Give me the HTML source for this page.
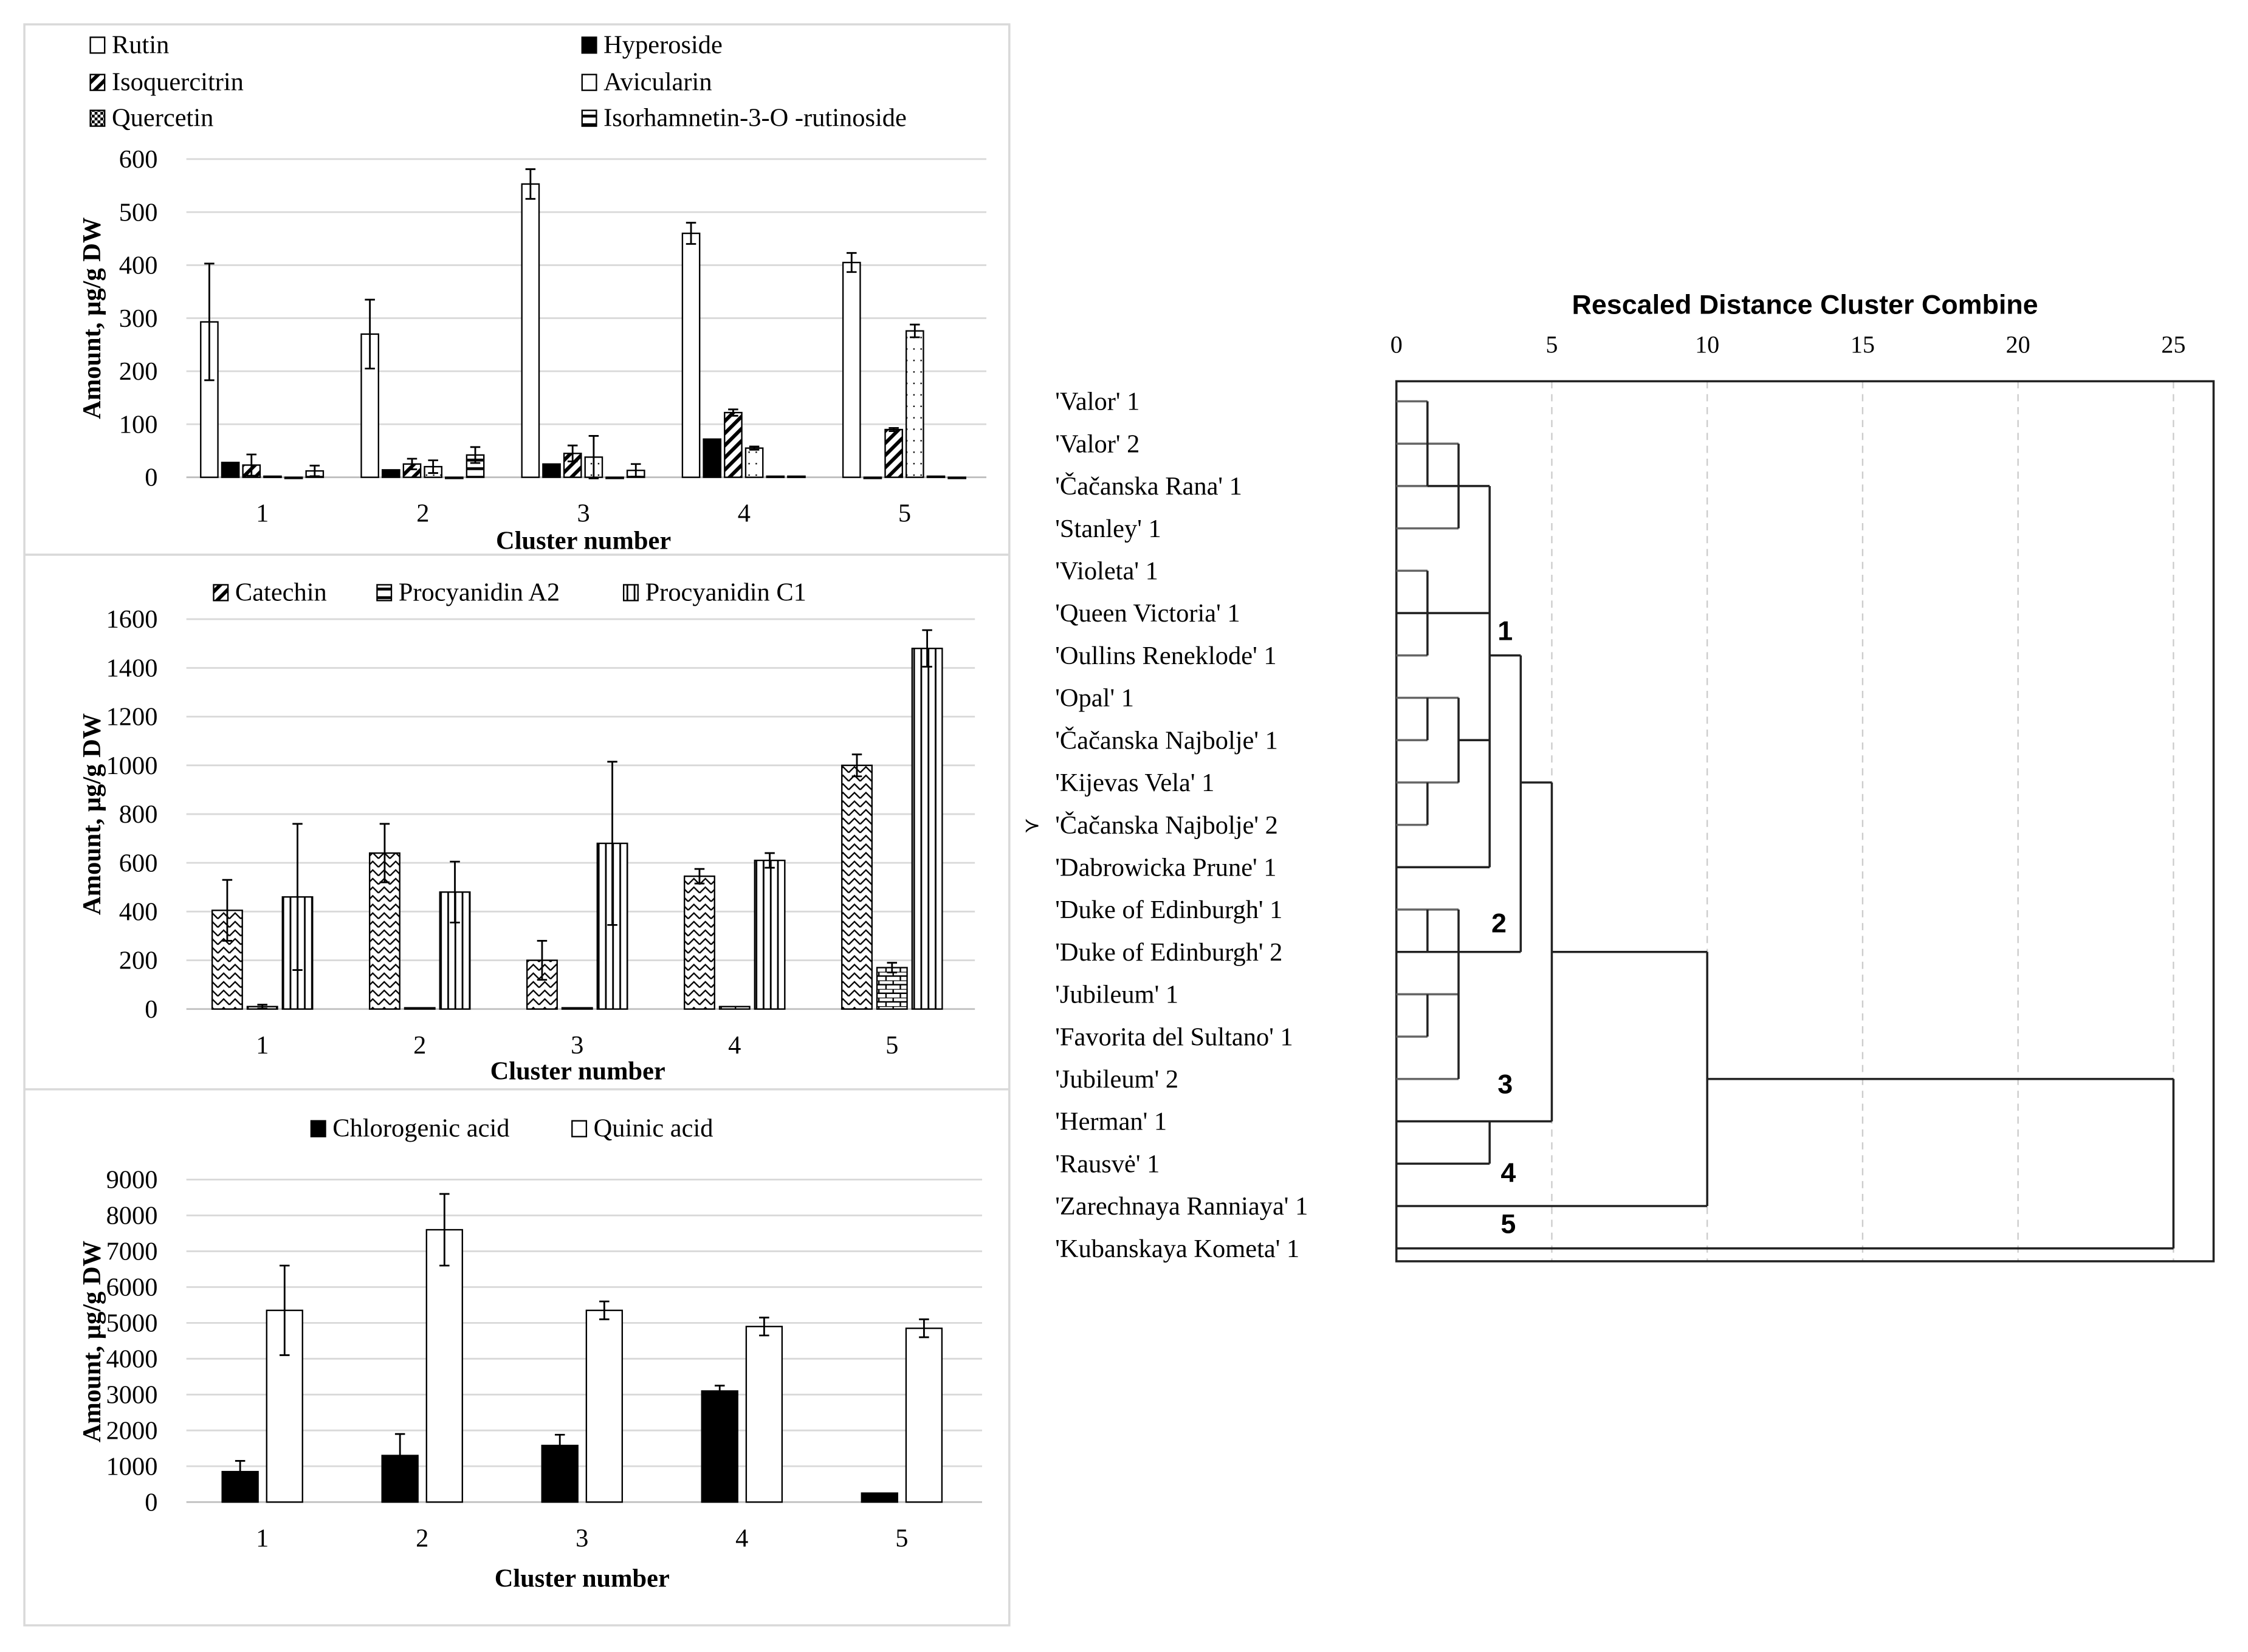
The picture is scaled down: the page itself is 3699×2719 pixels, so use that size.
<!DOCTYPE html>
<html><head><meta charset="utf-8"><style>
html,body{margin:0;padding:0;background:#fff}
svg{display:block}
text{font-family:"Liberation Serif",serif;fill:#000}
.sans{font-family:"Liberation Sans",sans-serif}
</style></head><body>
<svg id="fig" xmlns="http://www.w3.org/2000/svg" width="3699" height="2719" viewBox="0 0 1568 1152.6" preserveAspectRatio="none">
<defs>
<pattern id="pDiag" width="6" height="6" patternUnits="userSpaceOnUse" patternTransform="rotate(45)"><rect width="6" height="6" fill="#fff"/><rect width="2.5" height="6" fill="#000"/></pattern>
<pattern id="pDots" width="5" height="8" patternUnits="userSpaceOnUse"><rect width="5" height="8" fill="#fff"/><rect x="2" y="3" width="1" height="1" fill="#000"/></pattern>
<pattern id="pHor" width="6" height="6" patternUnits="userSpaceOnUse"><rect width="6" height="6" fill="#fff"/><rect y="2" width="6" height="2" fill="#000"/></pattern>
<pattern id="pCheck" width="4" height="4" patternUnits="userSpaceOnUse"><rect width="4" height="4" fill="#fff"/><rect width="2" height="2" fill="#000"/><rect x="2" y="2" width="2" height="2" fill="#000"/></pattern>
<pattern id="pZig" width="8" height="6" patternUnits="userSpaceOnUse"><rect width="8" height="6" fill="#fff"/><path d="M0,5 L4,1 L8,5" fill="none" stroke="#000" stroke-width="1"/></pattern>
<pattern id="pBrick" width="10" height="6" patternUnits="userSpaceOnUse"><rect width="10" height="6" fill="#fff"/><path d="M0,0H10M0,3H10M3,0V3M8,3V6" stroke="#000" stroke-width="1"/></pattern>
<pattern id="pVert" width="5" height="5" patternUnits="userSpaceOnUse"><rect width="5" height="5" fill="#fff"/><rect x="2" width="1.2" height="5" fill="#000"/></pattern>
</defs>
<rect x="17" y="17" width="687" height="1117" fill="none" stroke="#d9d9d9" stroke-width="1.5"/>
<line x1="17" y1="387" x2="704" y2="387" stroke="#d9d9d9" stroke-width="1.5"/>
<line x1="17" y1="760" x2="704" y2="760" stroke="#d9d9d9" stroke-width="1.5"/>
<g id="c1"></g>
<g id="c2"></g>
<g id="c3"></g>
<g id="dendro"></g>
</svg>
<script>
const NS="http://www.w3.org/2000/svg";
const cats=["1","2","3","4","5"];
const c1Series=["Rutin","Hyperoside","Isoquercitrin","Avicularin","Quercetin","Isorhamnetin-3-O -rutinoside"];
const rutinVals=[293,270,553,460,405];
const rutinErr=[110,65,28,20,18];
const hyperVals=[28,14,25,72,0];
const hyperErr=[0,0,0,0,0];
const isoqVals=[23,25,45,122,90];
const isoqErr=[20,10,15,6,3];
const avicVals=[2,20,38,55,276];
const avicErr=[0,12,40,3,12];
const quercVals=[0,0,0,2,2];
const quercErr=[0,0,0,0,0];
const isorVals=[12,42,13,2,0];
const isorErr=[10,15,12,0,0];
const c1Ticks=[0,100,200,300,400,500,600];
const c2Series=["Catechin","Procyanidin A2","Procyanidin C1"];
const catVals=[405,640,200,545,1000];
const catErr=[125,120,80,30,45];
const a2Vals=[10,5,5,10,170];
const a2Err=[8,0,0,0,20];
const pc1Vals=[460,480,680,610,1480];
const pc1Err=[300,125,335,30,75];
const c2Ticks=[0,200,400,600,800,1000,1200,1400,1600];
const c3Series=["Chlorogenic acid","Quinic acid"];
const chlVals=[850,1300,1580,3100,250];
const chlErr=[300,600,300,150,0];
const quinVals=[5350,7600,5350,4900,4850];
const quinErr=[1250,1000,250,250,250];
const c3Ticks=[0,1000,2000,3000,4000,5000,6000,7000,8000,9000];

function el(p,tag,attrs,txt){const e=document.createElementNS(NS,tag);for(const k in attrs)e.setAttribute(k,attrs[k]);if(txt!==undefined)e.textContent=txt;p.appendChild(e);return e;}

function drawChart(g,cfg){
  const y=v=>cfg.y0-(v-0)/cfg.max*(cfg.y0-cfg.yTop);
  cfg.ticks.forEach(t=>{
    const l=el(g,'line',{x1:cfg.xl,x2:cfg.xr,y1:y(t),y2:y(t),stroke:t===0?'#bfbfbf':'#d9d9d9','stroke-width':1.2});
    
    
    const tx=el(g,'text',{x:cfg.tickX,y:y(t)+6,'text-anchor':'end','font-size':18},String(t));
    
    
  });
  cats.forEach((c,i)=>{
    const cx=cfg.c0+i*cfg.cs;
    cfg.series.forEach((s,j)=>{
      const v=s.vals[i],e=s.err[i];
      const x=cx+cfg.off+j*cfg.slot;
      const r=el(g,'rect',{x:x,y:y(v),width:cfg.bw,height:Math.max(0.8,y(0)-y(v)),fill:s.fill,stroke:'#000','stroke-width':1});
      
      
      if(e>0){
        const mx=x+cfg.bw/2;
        const eb=el(g,'path',{d:`M${mx},${y(v+e)}V${y(v-e)}M${mx-3.5},${y(v+e)}H${mx+3.5}M${mx-3.5},${y(v-e)}H${mx+3.5}`,stroke:'#000','stroke-width':1.2,fill:'none'});
        
        
      }
    });
    const lt=el(g,'text',{x:cx,y:cfg.xlabY,'text-anchor':'middle','font-size':18},c);
    
    
  });
  const xt=el(g,'text',{x:cfg.xtX,y:cfg.xtY,'text-anchor':'middle','font-size':18,'font-weight':'bold'},'Cluster number');
  
  
  const yt=el(g,'text',{x:0,y:0,transform:`translate(70,${cfg.ytY}) rotate(-90)`,'text-anchor':'middle','font-size':18,'font-weight':'bold'},'Amount,  µg/g DW');
  
  
  cfg.legend.forEach(L=>{
    const b=el(g,'rect',{x:L.x,y:L.y-11,width:10,height:11,fill:L.fill,stroke:'#000','stroke-width':1});
    
    
    const t=el(g,'text',{x:L.x+15,y:L.y,'font-size':18},L.label);
    
    
  });
}

drawChart(document.getElementById('c1'),{
  y0:333,yTop:111,max:600,ticks:c1Ticks,xl:130,xr:688,tickX:110,c0:183,cs:112,off:-43,slot:14.7,bw:12,
  xlabY:364,xtX:407,xtY:383,ytY:222,
  series:[
    {key:'rutin',vals:rutinVals,err:rutinErr,fill:'#fff'},
    {key:'hyperoside',vals:hyperVals,err:hyperErr,fill:'#000'},
    {key:'isoquercitrin',vals:isoqVals,err:isoqErr,fill:'url(#pDiag)'},
    {key:'avicularin',vals:avicVals,err:avicErr,fill:'url(#pDots)'},
    {key:'quercetin',vals:quercVals,err:quercErr,fill:'url(#pCheck)'},
    {key:'isorhamnetin',vals:isorVals,err:isorErr,fill:'url(#pHor)'}],
  legend:[
    {key:'rutin',label:c1Series[0],x:63,y:37,fill:'#fff'},
    {key:'hyperoside',label:c1Series[1],x:406,y:37,fill:'#000'},
    {key:'isoquercitrin',label:c1Series[2],x:63,y:63,fill:'url(#pDiag)'},
    {key:'avicularin',label:c1Series[3],x:406,y:63,fill:'#fff'},
    {key:'quercetin',label:c1Series[4],x:63,y:88,fill:'url(#pCheck)'},
    {key:'isorhamnetin',label:c1Series[5],x:406,y:88,fill:'url(#pHor)'}]
});
drawChart(document.getElementById('c2'),{
  y0:704,yTop:432,max:1600,ticks:c2Ticks,xl:130,xr:680,tickX:110,c0:183,cs:109.8,off:-35,slot:24.5,bw:21,
  xlabY:735,xtX:403,xtY:753,ytY:568,
  series:[
    {key:'catechin',vals:catVals,err:catErr,fill:'url(#pZig)'},
    {key:'procyanidin-a2',vals:a2Vals,err:a2Err,fill:'url(#pBrick)'},
    {key:'procyanidin-c1',vals:pc1Vals,err:pc1Err,fill:'url(#pVert)'}],
  legend:[
    {key:'catechin',label:c2Series[0],x:149,y:419,fill:'url(#pDiag)'},
    {key:'procyanidin-a2',label:c2Series[1],x:263,y:419,fill:'url(#pHor)'},
    {key:'procyanidin-c1',label:c2Series[2],x:435,y:419,fill:'url(#pVert)'}]
});
drawChart(document.getElementById('c3'),{
  y0:1048,yTop:823,max:9000,ticks:c3Ticks,xl:130,xr:685,tickX:110,c0:183,cs:111.5,off:-28,slot:31,bw:25,
  xlabY:1079,xtX:406,xtY:1107,ytY:936,
  series:[
    {key:'chlorogenic',vals:chlVals,err:chlErr,fill:'#000'},
    {key:'quinic',vals:quinVals,err:quinErr,fill:'#fff'}],
  legend:[
    {key:'chlorogenic',label:c3Series[0],x:217,y:793,fill:'#000'},
    {key:'quinic',label:c3Series[1],x:399,y:793,fill:'#fff'}]
});

const leaves=["'Valor' 1","'Valor' 2","'Čačanska Rana' 1","'Stanley' 1","'Violeta' 1","'Queen Victoria' 1","'Oullins Reneklode' 1","'Opal' 1","'Čačanska Najbolje' 1","'Kijevas Vela' 1","'Čačanska Najbolje' 2","'Dabrowicka Prune' 1","'Duke of Edinburgh' 1","'Duke of Edinburgh' 2","'Jubileum' 1","'Favorita del Sultano' 1","'Jubileum' 2","'Herman' 1","'Rausvė' 1","'Zarechnaya Ranniaya' 1","'Kubanskaya Kometa' 1"];
const distTicks=[0,5,10,15,20,25];
const hSegs=[[0,0,1],[2,0,1],[1,0,2],[3,0,2],[2,1,3],[4,0,1],[6,0,1],[5,0,3],[7,0,2],[9,0,2],[8,0,1],[8,2,3],[10,0,1],[11,0,3],[6,3,4],[12,0,2],[13,0,4],[14,0,2],[15,0,1],[16,0,2],[9,4,5],[17,0,5],[18,0,3],[13,5,10],[19,0,10],[16,10,25],[20,0,25]];
const vSegs=[[1,0,2],[2,1,3],[3,2,11],[1,4,6],[2,7,9],[1,7,8],[1,9,10],[4,6,13],[1,12,13],[2,12,16],[1,14,15],[5,9,17],[3,17,18],[10,13,19],[25,16,20]];
const clusterLabels=[["1",3.5,5.4],["2",3.3,12.3],["3",3.5,16.1],["4",3.6,18.2],["5",3.6,19.4]];
(function(){
  const g=document.getElementById('dendro');
  const X=d=>974+d*21.68, Y=r=>280+r*29.55;
  const title=el(g,'text',{x:1259,y:219,'text-anchor':'middle','font-size':19,'font-weight':'bold',class:'sans'},'Rescaled Distance Cluster Combine');
  
  
  distTicks.forEach(t=>{
    const tx=el(g,'text',{x:X(t),y:246,'text-anchor':'middle','font-size':17},String(t));
    
    
    if(t>0){const gl=el(g,'line',{x1:X(t),x2:X(t),y1:266,y2:880,stroke:'#ccc','stroke-dasharray':'5,4','stroke-width':1});
    
    }
  });
  const box=el(g,'rect',{x:974,y:266,width:570,height:614,fill:'none',stroke:'#222','stroke-width':1.5});
  
  
  leaves.forEach((n,i)=>{
    const t=el(g,'text',{x:736,y:Y(i)+6,'font-size':18},n);
    
    
  });
  const mk=el(g,'text',{x:714,y:Y(10)+5,'font-size':14},'≻');
  
  
  hSegs.forEach((s,i)=>{
    const l=el(g,'line',{x1:X(s[1]),x2:X(s[2]),y1:Y(s[0]),y2:Y(s[0]),stroke:s[1]===0&&s[2]<=2?'#666':'#222','stroke-width':1.5});
    
    
  });
  vSegs.forEach((s,i)=>{
    const l=el(g,'line',{x1:X(s[0]),x2:X(s[0]),y1:Y(s[1]),y2:Y(s[2]),stroke:'#222','stroke-width':1.5});
    
    
  });
  clusterLabels.forEach(c=>{
    const t=el(g,'text',{x:X(c[1]),y:Y(c[2])+7,'text-anchor':'middle','font-size':19,'font-weight':'bold',class:'sans'},c[0]);
    
    
  });
})();
</script>
</body></html>
